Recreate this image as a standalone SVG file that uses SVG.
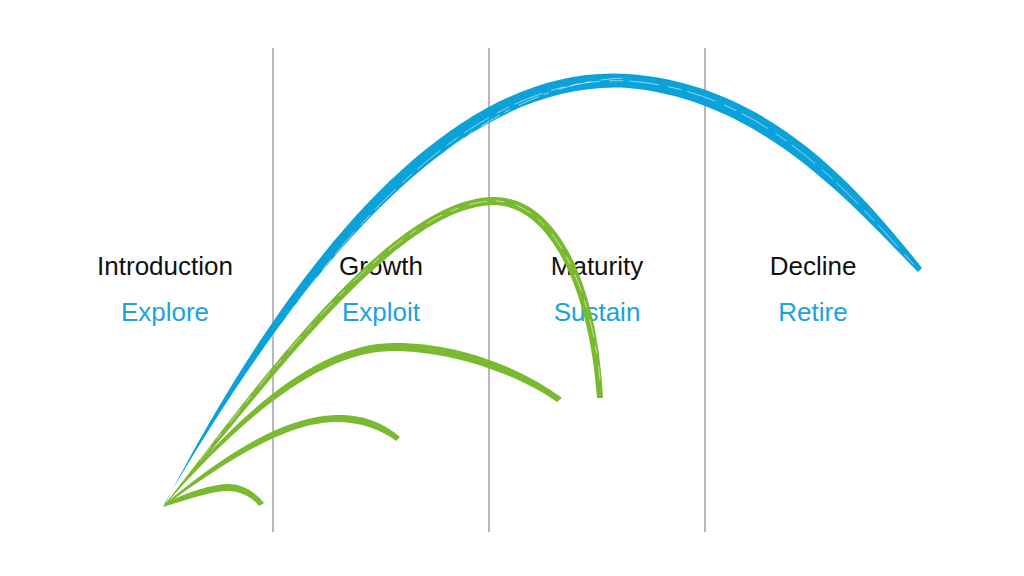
<svg xmlns="http://www.w3.org/2000/svg" width="1024" height="576" viewBox="0 0 1024 576">
<style>
.div{stroke:#a0a0a0;stroke-width:1.5;fill:none}
.lbl{font-family:"Liberation Sans","Noto Sans",sans-serif;font-size:26px;text-anchor:middle}
.stage{fill:#111}
.act{fill:#1ba3dc}
.blue{fill:#0aa2d9}
.green{fill:#7aba30}
.streak{fill:none;stroke:#fff;stroke-width:1;stroke-opacity:0.55;stroke-dasharray:14 6 30 9}
</style>
<rect width="1024" height="576" fill="#fff"/>
<g id="dividers">
<line class="div" x1="273" y1="48" x2="273" y2="532"/>
<line class="div" x1="489" y1="48" x2="489" y2="532"/>
<line class="div" x1="705" y1="48" x2="705" y2="532"/>
</g>
<g id="introduction">
<text class="lbl stage" x="165" y="275">Introduction</text>
<text class="lbl act" x="165" y="321">Explore</text>
</g>
<g id="growth">
<text class="lbl stage" x="381" y="275">Growth</text>
<text class="lbl act" x="381" y="321">Exploit</text>
</g>
<g id="maturity">
<text class="lbl stage" x="597" y="275">Maturity</text>
<text class="lbl act" x="597" y="321">Sustain</text>
</g>
<g id="decline">
<text class="lbl stage" x="813" y="275">Decline</text>
<text class="lbl act" x="813" y="321">Retire</text>
</g>
<g id="connectors">
<path id="blue-curve" class="blue" d="M166,502 C296,252 455,62 628,74 C770,84 860,190 922,268 L918,272 C852,205 762,100 628,88 C460,78 305,262 163,506 Z"/>
<path class="streak" d="M190,465 C310,262 460,72 628,81 C765,90 852,196 915,266"/>
<path class="streak" d="M240,390 C330,250 470,80 628,78" style="stroke-dasharray:6 10 22 5"/>
<path id="green-big" class="green" d="M166,503 C250,396 390,196 495,197 C560,198 598,290 603,398 L597,398 C590,296 553,207 495,205 C392,205 255,405 163,507 Z"/>
<path class="streak" d="M200,460 C265,380 395,201 495,201 C555,202 592,292 600,380" style="stroke-dasharray:18 9 8 12"/>
<path id="green-mid" class="green" d="M166,503 C240,410 320,344 392,343 C460,342 525,370 562,398 L557,402 C520,376 455,351 392,351 C322,352 245,414 163,507 Z"/>
<path id="green-small" class="green" d="M166,503 C230,450 285,417 335,415 C365,414 385,424 400,437 L396,441 C382,430 362,422 335,422 C288,423 235,455 163,507 Z"/>
<path id="green-tiny" class="green" d="M166,503 C190,491 210,485 228,484 C243,484 255,492 264,503 L259,506 C252,497 240,491 228,491 C212,491 192,498 163,507 Z"/>
</g>
</svg>
